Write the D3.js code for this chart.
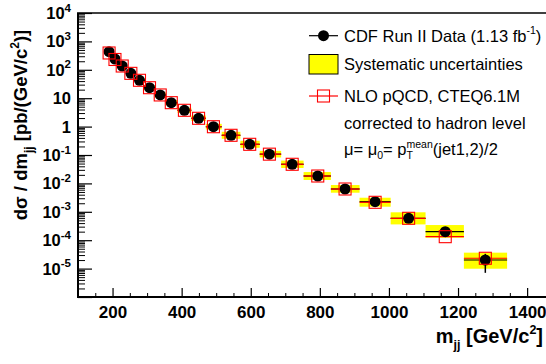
<!DOCTYPE html>
<html><head><meta charset="utf-8">
<script src="https://cdn.jsdelivr.net/npm/d3@7"></script>
<style>
html,body{margin:0;padding:0;background:#fff;}
svg{display:block;font-family:"Liberation Sans",Arial,Helvetica,sans-serif;}
</style></head>
<body>
<svg id="c" width="546" height="364"></svg>
<script>
// ---- data ----
const mjj      = [190, 207, 228, 253, 278, 307, 338, 370, 408, 449, 492, 543, 597, 654, 720, 794, 873, 960, 1057, 1163, 1279];
const binLow   = [180, 198, 217, 240, 265, 292, 322, 354, 388, 428, 470, 516, 570, 626, 688, 753, 832, 915, 1005, 1106, 1217];
const binHigh  = [198, 217, 240, 265, 292, 322, 354, 388, 428, 470, 516, 570, 626, 688, 753, 832, 915, 1005, 1106, 1217, 1342];
const xsec     = [434, 240, 136, 75, 42.7, 23.4, 13.0, 6.95, 3.75, 1.96, 0.99, 0.494, 0.238, 0.107, 0.0471, 0.0182, 0.00635, 0.00227, 5.9e-4, 1.99e-4, 2.01e-5];
const statErr  = [2, 1, 0.6, 0.3, 0.15, 0.08, 0.05, 0.03, 0.02, 0.01, 0.006, 0.003, 0.002, 0.001, 0.0005, 0.0003, 0.0001, 0.00006, 0.00003, 0.00003, 1.3e-5];
const sysUp    = [520, 288, 163, 90, 51.5, 28.4, 15.9, 8.5, 4.6, 2.45, 1.25, 0.657, 0.317, 0.140, 0.0636, 0.0251, 0.00876, 0.00313, 9.6e-4, 3.42e-4, 3.64e-5];
const sysDown  = [362, 200, 113, 62.5, 35.3, 19.3, 10.6, 5.65, 3.05, 1.58, 0.79, 0.372, 0.179, 0.0818, 0.0349, 0.0132, 0.00470, 0.00151, 3.6e-4, 1.22e-4, 9.9e-6];
const nlo      = [391, 231, 136, 75, 42.7, 23.4, 13.0, 6.95, 3.75, 1.96, 0.99, 0.494, 0.238, 0.107, 0.0471, 0.0182, 0.00635, 0.00216, 5.9e-4, 1.33e-4, 2.31e-5];

const xTicks      = [200, 400, 600, 800, 1000, 1200, 1400];
const xMinorTicks = [100, 150, 250, 300, 350, 450, 500, 550, 650, 700, 750, 850, 900, 950, 1050, 1100, 1150, 1250, 1300, 1350];
const yTickBase   = ["10","10","10","10","10","1","10","10","10","10"];
const yTickExp    = ["-5","-4","-3","-2","-1","","","2","3","4"];
const yTickVals   = [1e-5,1e-4,1e-3,1e-2,1e-1,1,10,1e2,1e3,1e4];

const legendItems = ["CDF Run II Data (1.13 fb", "Systematic uncertainties", "NLO pQCD, CTEQ6.1M", "corrected to hadron level"];

// ---- layout ----
const L = 78, R = 544.4, T = 13, B = 297;
const svg = d3.select("#c");
const x = d3.scaleLinear().domain([100, 1450]).range([L, R]);
const y = d3.scaleLog().domain([1e-6, 1e4]).range([B, T]);

const idx = d3.range(mjj.length);
const g = svg.append("g");

// systematic boxes
g.selectAll("rect.sys").data(idx).join("rect")
  .attr("x", i => x(binLow[i])).attr("width", i => x(binHigh[i]) - x(binLow[i]))
  .attr("y", i => y(sysUp[i])).attr("height", i => y(sysDown[i]) - y(sysUp[i]))
  .attr("fill", "#ffff00");

// data horizontal bars (black)
g.selectAll("line.dx").data(idx).join("line")
  .attr("x1", i => x(binLow[i])).attr("x2", i => x(binHigh[i]))
  .attr("y1", i => y(xsec[i])).attr("y2", i => y(xsec[i]))
  .attr("stroke", "#000").attr("stroke-width", 1.2);
// data stat error bars
g.selectAll("line.dy").data(idx).join("line")
  .attr("x1", i => x(mjj[i])).attr("x2", i => x(mjj[i]))
  .attr("y1", i => y(xsec[i] + statErr[i])).attr("y2", i => y(Math.max(xsec[i] - statErr[i], 1e-7)))
  .attr("stroke", "#000").attr("stroke-width", 1.5);
// NLO horizontal bars (red)
g.selectAll("line.nx").data(idx).join("line")
  .attr("x1", i => x(binLow[i])).attr("x2", i => x(binHigh[i]))
  .attr("y1", i => y(nlo[i])).attr("y2", i => y(nlo[i]))
  .attr("stroke", "#ff0000").attr("stroke-width", 1.2);
// data dots
g.selectAll("circle.d").data(idx).join("circle")
  .attr("cx", i => x(mjj[i])).attr("cy", i => y(xsec[i])).attr("r", 5.5)
  .attr("fill", "#000");
// NLO squares
g.selectAll("rect.n").data(idx).join("rect")
  .attr("x", i => x(mjj[i]) - 6).attr("y", i => y(nlo[i]) - 6)
  .attr("width", 12).attr("height", 12)
  .attr("fill", "none").attr("stroke", "#ff0000").attr("stroke-width", 1.1);

// ---- axes ----
const xa = svg.append("g").attr("transform", `translate(0,${B})`)
  .call(d3.axisBottom(x).tickValues(xTicks).tickSize(-9).tickPadding(9).tickFormat(d3.format("d")));
xa.select(".domain").remove();
xa.selectAll("text").attr("font-size", 17).attr("font-weight", "bold").attr("fill", "#000")
  .attr("font-family", "Liberation Sans, Arial, sans-serif");
xa.selectAll("line").attr("stroke", "#000").attr("stroke-width", 1.2);
const xm = svg.append("g").attr("transform", `translate(0,${B})`)
  .call(d3.axisBottom(x).tickValues(xMinorTicks).tickSize(-4).tickFormat(""));
xm.select(".domain").remove();
xm.selectAll("line").attr("stroke", "#000").attr("stroke-width", 1);

const yMinor = [];
for (let e = -6; e < 4; e++) for (let k = 2; k <= 9; k++) yMinor.push(k * Math.pow(10, e));
const ya = svg.append("g").attr("transform", `translate(${L},0)`)
  .call(d3.axisLeft(y).tickValues(yTickVals.concat([1e-6])).tickSize(-14).tickFormat(""));
ya.select(".domain").remove();
ya.selectAll("line").attr("stroke", "#000").attr("stroke-width", 1.2);
const ym = svg.append("g").attr("transform", `translate(${L},0)`)
  .call(d3.axisLeft(y).tickValues(yMinor).tickSize(-7).tickFormat(""));
ym.select(".domain").remove();
ym.selectAll("line").attr("stroke", "#000").attr("stroke-width", 1);

// y tick labels with superscripts
yTickVals.forEach((v, i) => {
  const t = svg.append("text").attr("x", 71).attr("y", y(v) + 6)
    .attr("text-anchor", "end").attr("font-size", 16.5).attr("font-weight", "bold").attr("fill", "#000");
  t.append("tspan").text(yTickBase[i]);
  if (yTickExp[i]) t.append("tspan").attr("dy", -7.5).attr("font-size", 11.5).text(yTickExp[i]);
});

// frame
svg.append("line").attr("x1", L).attr("x2", L).attr("y1", T).attr("y2", B).attr("stroke", "#000").attr("stroke-width", 2);
svg.append("line").attr("x1", L - 1).attr("x2", 546).attr("y1", B).attr("y2", B).attr("stroke", "#000").attr("stroke-width", 2);
svg.append("line").attr("x1", L - 1).attr("x2", 546).attr("y1", T).attr("y2", T).attr("stroke", "#000").attr("stroke-width", 1.3);

// axis titles
const xt = svg.append("text").attr("x", 543).attr("y", 343).attr("text-anchor", "end")
  .attr("font-size", 20).attr("font-weight", "bold").attr("fill", "#000");
xt.append("tspan").text("m");
xt.append("tspan").attr("dy", 6).attr("font-size", 12.5).text("jj");
xt.append("tspan").attr("dy", -6).text(" [GeV/c");
xt.append("tspan").attr("dy", -9).attr("font-size", 12.5).text("2");
xt.append("tspan").attr("dy", 9).text("]");

const yt = svg.append("text").attr("transform", "translate(27,125) rotate(-90)").attr("text-anchor", "middle")
  .attr("font-size", 18.5).attr("font-weight", "bold").attr("fill", "#000");
yt.append("tspan").text("dσ / dm");
yt.append("tspan").attr("dy", 5.5).attr("font-size", 12).text("jj");
yt.append("tspan").attr("dy", -5.5).text(" [pb/(GeV/c");
yt.append("tspan").attr("dy", -8.5).attr("font-size", 12).text("2");
yt.append("tspan").attr("dy", 8.5).text(")]");

// ---- legend ----
const lx1 = 309, lx2 = 338, lxc = 323.5, tx = 344, lfs = 16.5, sfs = 10.5;
const ly = [35.7, 64.3, 96, 122.7, 149.3];
svg.append("line").attr("x1", lx1).attr("x2", lx2).attr("y1", ly[0]).attr("y2", ly[0]).attr("stroke", "#000").attr("stroke-width", 1.2);
svg.append("circle").attr("cx", lxc).attr("cy", ly[0]).attr("r", 5.5).attr("fill", "#000");
svg.append("rect").attr("x", lx1).attr("y", 54.5).attr("width", lx2 - lx1).attr("height", 19.5)
  .attr("fill", "#ffff00").attr("stroke", "#000").attr("stroke-width", 1);
svg.append("line").attr("x1", lx1).attr("x2", lx2).attr("y1", ly[2]).attr("y2", ly[2]).attr("stroke", "#ff0000").attr("stroke-width", 1.2);
svg.append("rect").attr("x", lxc - 6).attr("y", ly[2] - 6).attr("width", 12).attr("height", 12)
  .attr("fill", "none").attr("stroke", "#ff0000").attr("stroke-width", 1.1);

const base = 5.8;
const lt0 = svg.append("text").attr("x", tx).attr("y", ly[0] + base).attr("font-size", lfs).attr("fill", "#000");
lt0.append("tspan").text(legendItems[0]);
lt0.append("tspan").attr("dy", -7.5).attr("font-size", sfs).text("-1");
lt0.append("tspan").attr("dy", 7.5).text(")");
[1, 2, 3].forEach(i => {
  svg.append("text").attr("x", tx).attr("y", ly[i] + base).attr("font-size", lfs).attr("fill", "#000").text(legendItems[i]);
});
// mu line built piecewise
let cx = tx;
const by = ly[4] + base;
function piece(str, size, dy) {
  const t = svg.append("text").attr("x", cx).attr("y", by + dy).attr("font-size", size).attr("fill", "#000").text(str);
  return t.node().getComputedTextLength();
}
cx += piece("μ= μ", lfs, 0);
cx += piece("0", sfs, 4);
cx += piece("= p", lfs, 0);
const wSup = piece("mean", sfs, -7.5);
const wSub = piece("T", sfs, 4);
cx += Math.max(wSup, wSub);
piece("(jet1,2)/2", lfs, 0);
</script>
</body></html>
